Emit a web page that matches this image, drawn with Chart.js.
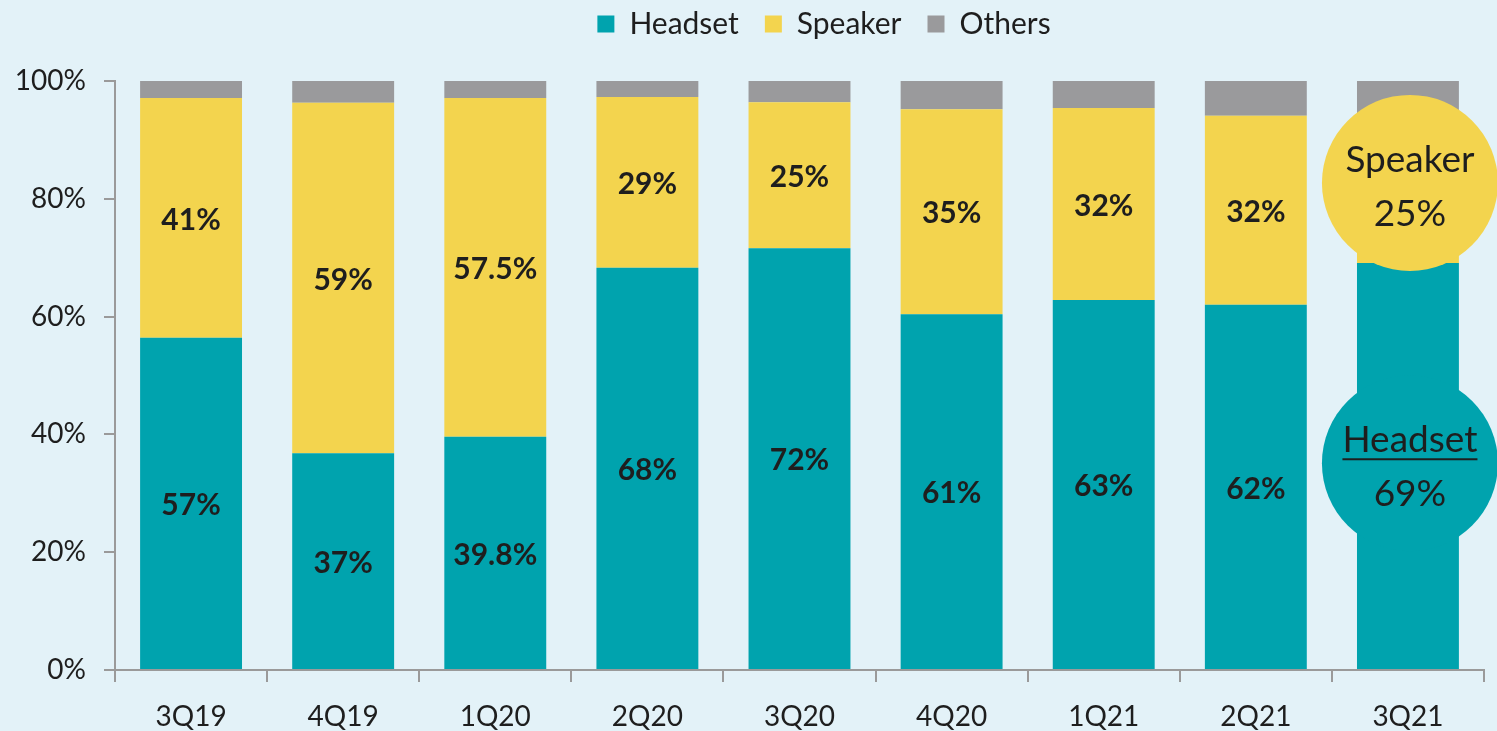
<!DOCTYPE html>
<html>
<head>
<meta charset="utf-8">
<script src="https://cdn.jsdelivr.net/npm/chart.js@4"></script>
<style>
  html, body { margin: 0; padding: 0; background: #e3f2f8; }
  #wrap { width: 1497px; height: 731px; }
</style>
</head>
<body>
<div id="wrap"><canvas id="mixChart"></canvas></div>
<script>
const FONT = "Lato, 'Open Sans', sans-serif";
const TEAL = '#00a3ae';
const YELLOW = '#f3d44e';
const GREY = '#9a9a9c';
const INK = '#1e1e1e';

const quarters = ['3Q19','4Q19','1Q20','2Q20','3Q20','4Q20','1Q21','2Q21','3Q21'];
const headset  = [56.4, 36.8, 39.6, 68.3, 71.6, 60.4, 62.8, 62.0, 69.1];
const speaker  = [40.7, 59.5, 57.5, 29.0, 24.8, 34.8, 32.6, 32.1, 25.0];
const others   = [2.9, 3.7, 2.9, 2.7, 3.6, 4.8, 4.6, 5.9, 5.9];
const headsetLabels = ['57%','37%','39.8%','68%','72%','61%','63%','62%', null];
const speakerLabels = ['41%','59%','57.5%','29%','25%','35%','32%','32%', null];
const yTicks = [0, 20, 40, 60, 80, 100];

/* bold value labels centred in each segment */
const segmentLabels = {
  id: 'segmentLabels',
  afterDatasetsDraw(chart) {
    const ctx = chart.ctx;
    const sets = [headsetLabels, speakerLabels];
    ctx.save();
    ctx.font = "bold 30px " + FONT;
    ctx.fillStyle = INK;
    ctx.textAlign = 'center';
    ctx.textBaseline = 'middle';
    sets.forEach((labels, di) => {
      chart.getDatasetMeta(di).data.forEach((bar, i) => {
        if (!labels[i]) return;
        ctx.fillText(labels[i], bar.x, (bar.y + bar.base) / 2 + 2);
      });
    });
    ctx.restore();
  }
};

/* callout circles over the latest quarter */
const callouts = {
  id: 'callouts',
  afterDatasetsDraw(chart) {
    const ctx = chart.ctx;
    const y = chart.scales.y;
    const last = quarters.length - 1;
    const x = chart.getDatasetMeta(0).data[last].x + 2;
    const items = [
      { title: 'Speaker', val: speaker[last], at: 82.7, fill: YELLOW, underline: false },
      { title: 'Headset', val: headset[last], at: 35.1, fill: TEAL, underline: true }
    ];
    ctx.save();
    items.forEach(it => {
      const cy = y.getPixelForValue(it.at);
      ctx.beginPath();
      ctx.arc(x, cy, 88, 0, Math.PI * 2);
      ctx.fillStyle = it.fill;
      ctx.fill();
      ctx.fillStyle = INK;
      ctx.textAlign = 'center';
      ctx.textBaseline = 'middle';
      ctx.font = "37px " + FONT;
      ctx.fillText(it.title, x, cy - 23);
      ctx.fillText(Math.round(it.val) + '%', x, cy + 31);
      if (it.underline) {
        const w = ctx.measureText(it.title).width;
        ctx.fillRect(x - w / 2, cy - 5, w, 2);
      }
    });
    ctx.restore();
  }
};

/* fixed legend band height, legend nudged right/up like the original */
const legendTweak = {
  id: 'legendTweak',
  beforeInit(chart) {
    const lg = chart.legend;
    const fit = lg.fit;
    lg.fit = function () { fit.bind(this)(); this.height = 81; };
    const draw = lg.draw;
    lg.draw = function () {
      this.ctx.save();
      this.ctx.translate(82, -17);
      draw.apply(this, arguments);
      this.ctx.restore();
    };
  }
};

new Chart(document.getElementById('mixChart'), {
  type: 'bar',
  data: {
    labels: quarters,
    datasets: [
      { label: 'Headset', data: headset, backgroundColor: TEAL },
      { label: 'Speaker', data: speaker, backgroundColor: YELLOW },
      { label: 'Others',  data: others,  backgroundColor: GREY }
    ]
  },
  options: {
    responsive: true,
    maintainAspectRatio: false,
    animation: false,
    layout: { padding: { left: 0, right: 13, top: 0, bottom: 0 } },
    datasets: { bar: { categoryPercentage: 0.67, barPercentage: 1.0 } },
    plugins: {
      legend: {
        position: 'top',
        labels: {
          font: { family: FONT, size: 30 },
          color: INK,
          boxWidth: 17,
          boxHeight: 17,
          padding: 26
        }
      },
      tooltip: { enabled: false }
    },
    scales: {
      x: {
        stacked: true,
        grid: { offset: true, drawOnChartArea: false, tickLength: 12, color: '#9a9a9a', lineWidth: 2 },
        border: { color: '#9a9a9a', width: 2 },
        ticks: { font: { family: FONT, size: 28 }, color: INK, padding: 18 },
        afterFit: s => { s.height = 61; }
      },
      y: {
        stacked: true,
        min: 0, max: 100,
        afterBuildTicks: s => { s.ticks = yTicks.map(v => ({ value: v })); },
        grid: { drawOnChartArea: false, tickLength: 11, color: '#9a9a9a', lineWidth: 2 },
        border: { color: '#9a9a9a', width: 2 },
        ticks: { font: { family: FONT, size: 28 }, color: INK, padding: 18, callback: v => v + '%' },
        afterFit: s => { s.width = 115; }
      }
    }
  },
  plugins: [legendTweak, segmentLabels, callouts]
});
</script>
</body>
</html>
